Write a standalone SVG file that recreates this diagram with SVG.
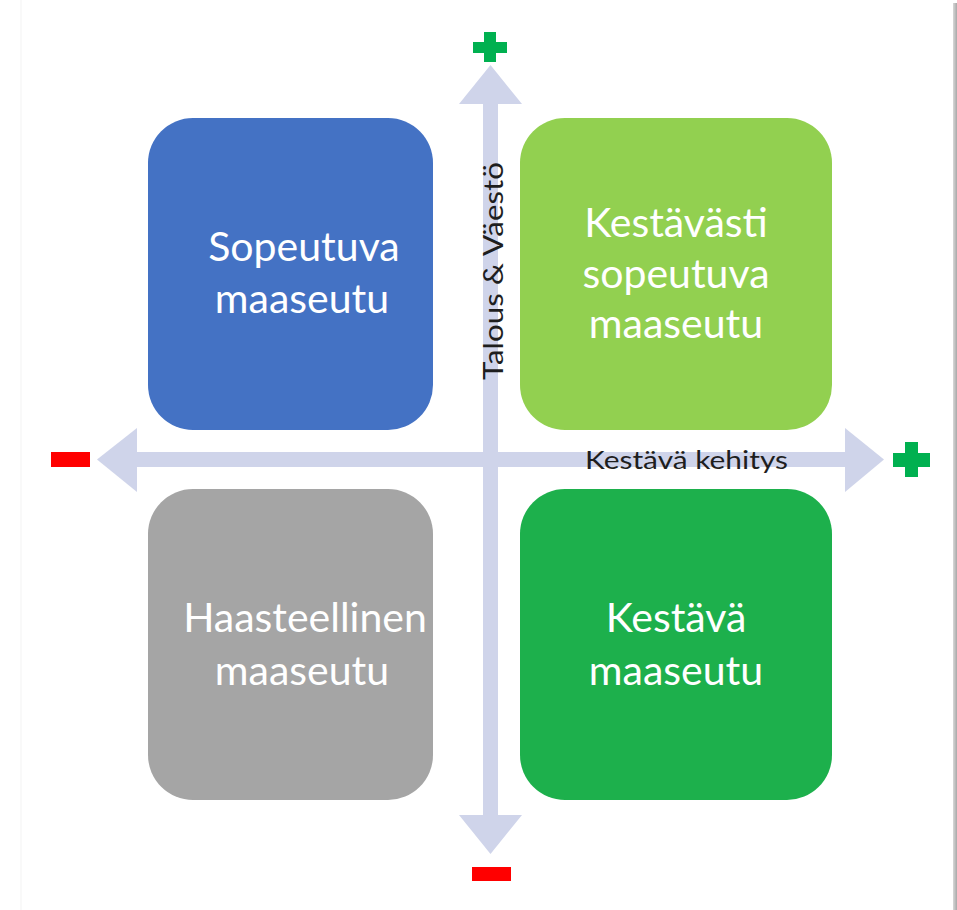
<svg xmlns="http://www.w3.org/2000/svg" width="957" height="910" viewBox="0 0 957 910">
  <defs>
    <linearGradient id="shadow" x1="0" y1="0" x2="1" y2="0">
      <stop offset="0" stop-color="#d8d8d8"/>
      <stop offset="1" stop-color="#a8a8a8"/>
    </linearGradient>
  </defs>
  <style>
    .box-text { font-family: "Lato", "Open Sans", sans-serif; font-size: 41px; fill: #ffffff; text-anchor: middle; }
    .axis-text { font-family: "Lato", "Open Sans", sans-serif; font-size: 25px; fill: #1e1e1e; }
    .axis { fill: #cfd4ea; }
    .plus { fill: #00b050; }
    .minus { fill: #ff0000; }
  </style>
  <rect x="0" y="0" width="957" height="910" fill="#ffffff"/>
  <line x1="21" y1="0" x2="21" y2="910" stroke="#f3f3f3" stroke-width="1"/>
  <rect x="953" y="3" width="4" height="907" fill="url(#shadow)"/>

  <g id="connectors">
    <rect class="axis" x="483" y="100" width="15" height="718"/>
    <polygon class="axis" points="490.5,65 459,104 522,104"/>
    <polygon class="axis" points="490.5,854 459,815 522,815"/>
    <rect class="axis" x="134" y="452" width="714" height="15"/>
    <polygon class="axis" points="97,459.5 137,428 137,492"/>
    <polygon class="axis" points="884,459.5 845,428 845,492"/>
  </g>

  <g id="node-sopeutuva">
    <rect x="148" y="118" width="285" height="312" rx="45" ry="45" fill="#4472c4"/>
    <text class="box-text" x="304" y="261">Sopeutuva</text>
    <text class="box-text" x="302" y="313">maaseutu</text>
  </g>
  <g id="node-kestavasti-sopeutuva">
    <rect x="520" y="118" width="312" height="312" rx="45" ry="45" fill="#92d050"/>
    <text class="box-text" x="676" y="237">Kestävästi</text>
    <text class="box-text" x="676" y="288">sopeutuva</text>
    <text class="box-text" x="676" y="338">maaseutu</text>
  </g>
  <g id="node-haasteellinen">
    <rect x="148" y="489" width="285" height="311" rx="45" ry="45" fill="#a5a5a5"/>
    <text class="box-text" x="305" y="632">Haasteellinen</text>
    <text class="box-text" x="302" y="685">maaseutu</text>
  </g>
  <g id="node-kestava">
    <rect x="520" y="489" width="312" height="311" rx="45" ry="45" fill="#1db04c"/>
    <text class="box-text" x="676" y="632">Kestävä</text>
    <text class="box-text" x="676" y="685">maaseutu</text>
  </g>

  <g id="axis-labels">
    <text class="axis-text" x="585" y="469" textLength="203" lengthAdjust="spacingAndGlyphs">Kestävä kehitys</text>
    <text class="axis-text" style="font-size:27px" transform="translate(503,380) rotate(-90)" textLength="218" lengthAdjust="spacingAndGlyphs">Talous &amp; Väestö</text>
  </g>

  <g id="signs">
    <path class="plus" d="M484,32 h12 v10 h11 v11 h-11 v9 h-12 v-9 h-11 v-11 h11 z"/>
    <path class="plus" d="M905,442 h13 v11 h12 v14 h-12 v10 h-13 v-10 h-12 v-14 h12 z"/>
    <rect class="minus" x="51" y="452" width="39" height="15"/>
    <rect class="minus" x="472" y="867" width="39" height="14"/>
  </g>
</svg>
